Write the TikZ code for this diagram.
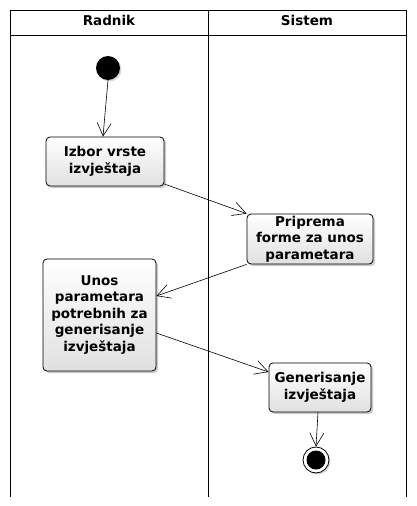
\documentclass[tikz,border=0pt]{standalone}
\usepackage{fontspec}
\setmainfont{DejaVu Sans}
\usetikzlibrary{arrows.meta,shadows}
\begin{document}
\begin{tikzpicture}[x=1pt,y=-1pt,
  lane/.style={line width=0.9pt, draw=black},
  act/.style={draw=black, line width=0.8pt, rounded corners=4pt, top color=white, bottom color=black!12,
    align=center, font=\bfseries\fontsize{13.5}{16.5}\selectfont, inner sep=0pt,
    drop shadow={shadow xshift=2pt, shadow yshift=-2pt, opacity=0.35, fill=black!60}},
  flow/.style={draw=black, line width=0.6pt, -{Straight Barb[length=13pt,width=14pt,line width=0.6pt]}},
  hdr/.style={font=\bfseries\fontsize{13.5}{16}\selectfont}
]
\useasboundingbox (0,0) rectangle (416,506);
% swimlanes
\draw[lane] (10,497) -- (10,10) -- (406,10) -- (406,497);
\draw[lane] (208,10) -- (208,497);
\draw[lane] (10,35) -- (406,35);
\node[hdr] (h1) at (109,20) {Radnik};
\node[hdr] (h2) at (307,20) {Sistem};
% start
\node[circle, fill=black, minimum size=24pt, inner sep=0pt,
  drop shadow={shadow xshift=1.5pt, shadow yshift=-1.5pt, opacity=0.3}] (start) at (108,68) {};
% activities
\node[act, minimum width=118pt, minimum height=49pt] (a1) at (105,161.5) {Izbor vrste\\izvještaja};
\node[act, minimum width=126pt, minimum height=50pt] (a2) at (310,239) {Priprema\\forme za unos\\parametara};
\node[act, minimum width=113pt, minimum height=112pt] (a3) at (99.5,315) {Unos\\parametara\\potrebnih za\\generisanje\\izvještaja};
\node[act, minimum width=102pt, minimum height=49pt] (a4) at (320,387.5) {Generisanje\\izvještaja};
% end
\node[circle, draw=black, line width=0.8pt, fill=white, minimum size=26pt, inner sep=0pt,
  drop shadow={shadow xshift=1.5pt, shadow yshift=-1.5pt, opacity=0.3}] (end) at (316,460) {};
\node[circle, fill=black, minimum size=19pt, inner sep=0pt] (endin) at (end) {};
% anchor coordinates
\coordinate (q1) at (103,0);
\coordinate (q2) at (0,184);
\coordinate (q3) at (0,296);
\coordinate (q4) at (0,333);
\coordinate (q5) at (0,372);
\coordinate (q6) at (318,0);
% flows
\draw[flow] (start.south) -- (a1.north -| q1);
\draw[flow] (a1.east |- q2) -- (a2.north west);
\draw[flow] (a2.south west) -- (a3.east |- q3);
\draw[flow] (a3.east |- q4) -- (a4.west |- q5);
\draw[flow] (a4.south -| q6) -- (end.north);
\end{tikzpicture}
\end{document}
